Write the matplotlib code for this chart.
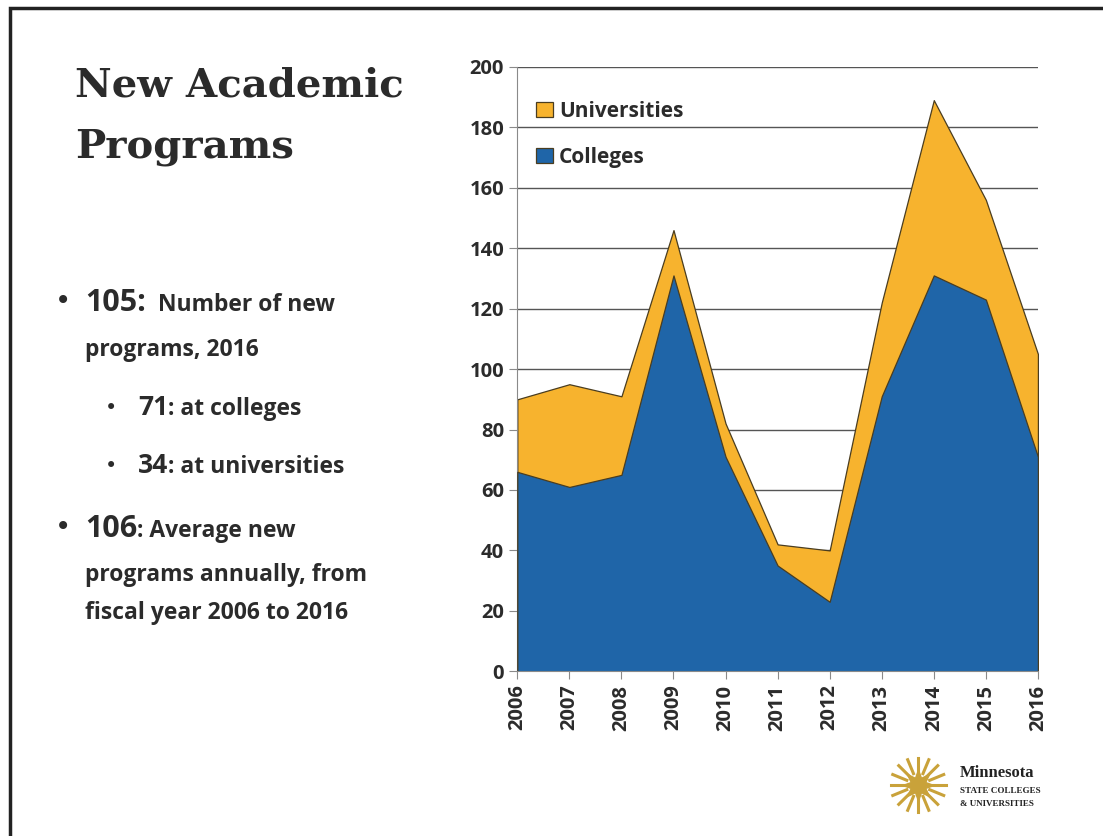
import numpy as np
import matplotlib.pyplot as plt
from matplotlib.patches import Rectangle

# data
years = [2006, 2007, 2008, 2009, 2010, 2011, 2012, 2013, 2014, 2015, 2016]
colleges = [66, 61, 65, 131, 71, 35, 23, 91, 131, 123, 71]
universities = [24, 34, 26, 15, 11, 7, 17, 31, 58, 33, 34]

blue = '#1f65a8'
gold = '#f7b32e'
edge = '#4a3d20'
txt = '#2b2b2b'
sans = 'Open Sans'

fig = plt.figure(figsize=(11.03, 8.36), dpi=100)
W, H = 1103.0, 836.0

# slide frame
fig.patches.append(Rectangle((0.009, -0.01), 1.2, 1.0, transform=fig.transFigure,
                             fill=False, edgecolor='#222222', lw=2.5))

ax = fig.add_axes([0.469, 0.197, 0.472, 0.723])
x = np.arange(len(years))
col = np.array(colleges)
tot = col + np.array(universities)

ax.fill_between(x, 0, tot, facecolor=gold, edgecolor=edge, lw=0.9, zorder=2, label='Universities')
ax.fill_between(x, 0, col, facecolor=blue, edgecolor=edge, lw=0.9, zorder=3, label='Colleges')

ax.set_xlim(0, len(years) - 1)
ax.set_ylim(0, 200)
ax.set_yticks(range(0, 201, 20))
ax.set_xticks(x)
ax.set_xticklabels([str(y) for y in years], rotation=90)
ax.yaxis.grid(True, color='#555555', lw=1.0, zorder=1)
ax.set_axisbelow(True)
for s in ['top', 'right']:
    ax.spines[s].set_visible(False)
ax.spines['left'].set_color('#8a8a8a')
ax.spines['bottom'].set_color('#8a8a8a')
ax.spines['bottom'].set_zorder(4)
ax.tick_params(axis='both', colors='#8a8a8a', length=6, labelcolor=txt, labelsize=14.5)
for lab in ax.get_xticklabels() + ax.get_yticklabels():
    lab.set_fontweight('bold')
    lab.set_family(sans)

leg = ax.legend(loc='upper left', bbox_to_anchor=(0.0, 0.975), frameon=False,
                prop={'family': sans, 'weight': 'bold', 'size': 15},
                handlelength=0.8, handleheight=0.8, handletextpad=0.3, labelspacing=1.2)
for t in leg.get_texts():
    t.set_color(txt)

# title
fig.text(0.068, 0.885, 'New Academic', family='DejaVu Serif', weight='bold',
         size=29, color=txt, va='baseline')
fig.text(0.068, 0.812, 'Programs', family='DejaVu Serif', weight='bold',
         size=29, color=txt, va='baseline')

renderer = fig.canvas.get_renderer()


def run(x0, y0, parts):
    # write pieces of one line one after the other on a shared baseline
    xpos = x0
    for s, size in parts:
        t = fig.text(xpos, y0, s, size=size, color=txt, weight='bold', family=sans, va='baseline')
        bb = t.get_window_extent(renderer)
        xpos = bb.x1 / W


def dot(x0, y0, size):
    fig.text(x0, y0, '\u2022', size=size, color=txt, va='baseline', family='DejaVu Sans')


# bullets (baselines in figure fraction)
dot(0.050, 0.630, 20)
run(0.077, 0.628, [('105:', 22), ('  Number of new', 16.5)])
run(0.077, 0.574, [('programs, 2016', 16.5)])

dot(0.095, 0.505, 15)
run(0.125, 0.504, [('71', 19), (': at colleges', 16.5)])
dot(0.095, 0.435, 15)
run(0.125, 0.434, [('34', 19), (': at universities', 16.5)])

dot(0.050, 0.360, 20)
run(0.077, 0.358, [('106', 22), (': Average new', 16.5)])
run(0.077, 0.305, [('programs annually, from', 16.5)])
run(0.077, 0.259, [('fiscal year 2006 to 2016', 16.5)])

# logo
lax = fig.add_axes([0.805, 0.025, 0.055, 0.072])
lax.set_xlim(-1.1, 1.1)
lax.set_ylim(-1.1, 1.1)
lax.axis('off')
for a in np.linspace(0, 2 * np.pi, 16, endpoint=False):
    lax.plot([0.45 * np.cos(a), 1.0 * np.cos(a)], [0.45 * np.sin(a), 1.0 * np.sin(a)],
             color='#c9a23a', lw=2.2)
lax.scatter([0], [0], marker=(8, 1, 0), s=500, color='#c9a23a')
fig.text(0.870, 0.071, 'Minnesota', family='Liberation Serif', weight='bold', size=12, color='#222')
fig.text(0.870, 0.052, 'STATE COLLEGES', family='Liberation Serif', weight='bold', size=6.5, color='#222')
fig.text(0.870, 0.036, '& UNIVERSITIES', family='Liberation Serif', weight='bold', size=6.5, color='#222')

fig.savefig('out.png', dpi=100, facecolor='white')
